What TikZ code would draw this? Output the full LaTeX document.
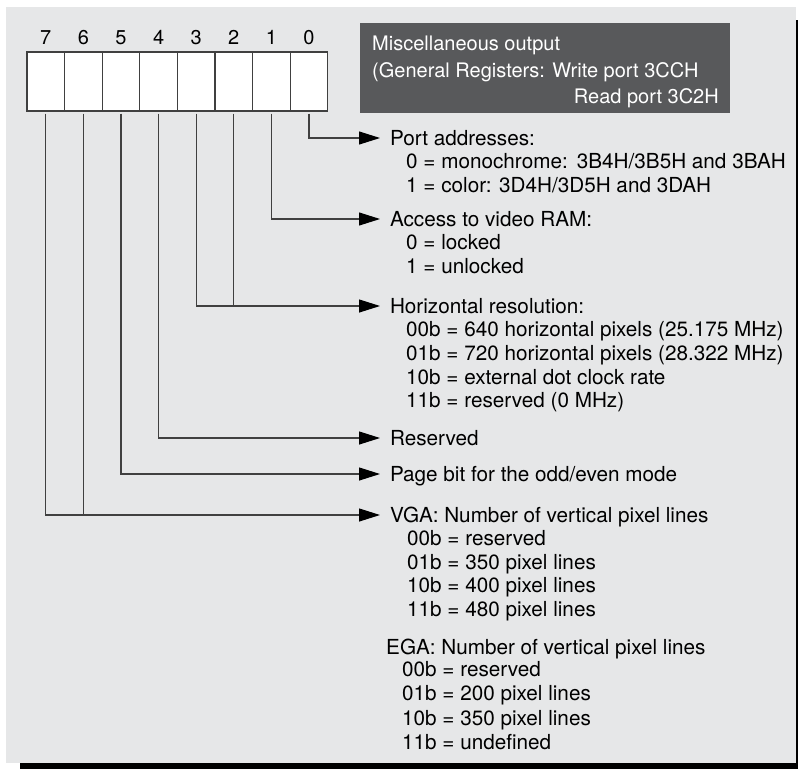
\documentclass[tikz,border=0pt]{standalone}
\usepackage{fontspec}
\setmainfont{TeX Gyre Heros}
\usetikzlibrary{arrows.meta}
\definecolor{panelgray}{HTML}{E6E7E8}
\definecolor{headgray}{HTML}{58595B}
\definecolor{linegray}{HTML}{404040}
\begin{document}
\begin{tikzpicture}[
	x=1pt, y=-1pt,
	every node/.style={ font=\fontsize{20.7}{24}\selectfont },
	bitcell/.style={ draw=linegray, fill=white, line width=1.1pt, minimum width=37.6pt, minimum height=59pt, inner sep=0pt },
	bitnum/.style={ inner sep=0pt, text height=14pt, text depth=0pt, font=\fontsize{20}{24}\selectfont },
	heading/.style={ anchor=west, inner sep=0pt, outer xsep=10pt, text height=15pt, text depth=0pt },
	item/.style={ anchor=west, inner sep=0pt, text height=15pt, text depth=0pt },
	hdrtext/.style={ text=white, inner sep=0pt, text height=14pt, text depth=0pt, font=\fontsize{20}{24}\selectfont },
	tap/.style={ draw=linegray, line width=1.1pt, shorten <=2pt },
	tapar/.style={ tap, -{Triangle[length=21pt,width=13pt,color=black]} }
]

\useasboundingbox (0,0) rectangle (798,769);
\fill[black] (20,20) rectangle (798,769);
\fill[panelgray] (6,7) rectangle (796,763);
\fill[headgray] (360,23) rectangle (730,113);

\node[hdrtext, anchor=west] (hd1) at (372,43) {Miscellaneous output};
\node[hdrtext, anchor=west] (hd2) at (372,70) {(General Registers: Write port 3CCH};
\node[hdrtext, anchor=east] (hd3) at (719,96) {Read port 3C2H};

\foreach \b in {0,...,7} {
	\node[bitcell] (b\b) at ({45.8+37.6*(7-\b)},81.5) {};
	\node[bitnum] (n\b) at ({45.8+37.6*(7-\b)},37) {\b};
}

\node[heading] (pa) at (380,138) {Port addresses:};
\foreach \t [count=\i from 0] in {0 = monochrome:\hspace{1.5pt} 3B4H/3B5H and 3BAH, 1 = color: 3D4H/3D5H and 3DAH}
	\node[item] (pa\i) at (406,{161+23.8*\i}) {\t};

\node[heading] (ac) at (380,219) {Access to video RAM:};
\foreach \t [count=\i from 0] in {0 = locked, 1 = unlocked}
	\node[item] (ac\i) at (406,{242+23.8*\i}) {\t};

\node[heading] (hr) at (380,306) {Horizontal resolution:};
\foreach \t [count=\i from 0] in {00b = 640 horizontal pixels (25.175 MHz), 01b = 720 horizontal pixels (28.322 MHz), 10b = external dot clock rate, 11b = reserved (0 MHz)}
	\node[item] (hr\i) at (406,{329+23.8*\i}) {\t};

\node[heading] (rs) at (380,438) {Reserved};
\node[heading] (pg) at (380,474) {Page bit for the odd/even mode};

\node[heading] (vg) at (380,515) {VGA: Number of vertical pixel lines};
\foreach \t [count=\i from 0] in {00b = reserved, 01b = 350 pixel lines, 10b = 400 pixel lines, 11b = 480 pixel lines}
	\node[item] (vg\i) at (407,{538+23.5*\i}) {\t};

\node[item] (eg) at (386,647) {EGA: Number of vertical pixel lines};
\foreach \t [count=\i from 0] in {00b = reserved, 01b = 200 pixel lines, 10b = 350 pixel lines, 11b = undefined}
	\node[item] (eg\i) at (402,{669+24.3*\i}) {\t};

\draw[tapar] (b0.south) |- (pa.west);
\draw[tapar] (b1.south) |- (ac.west);
\draw[tapar] (b3.south) |- (hr.west);
\draw[tap] (b2.south) -- (b2.south |- hr.west);
\draw[tapar] (b4.south) |- (rs.west);
\draw[tapar] (b5.south) |- (pg.west);
\draw[tapar] (b7.south) |- (vg.west);
\draw[tap] (b6.south) -- (b6.south |- vg.west);

\end{tikzpicture}
\end{document}
